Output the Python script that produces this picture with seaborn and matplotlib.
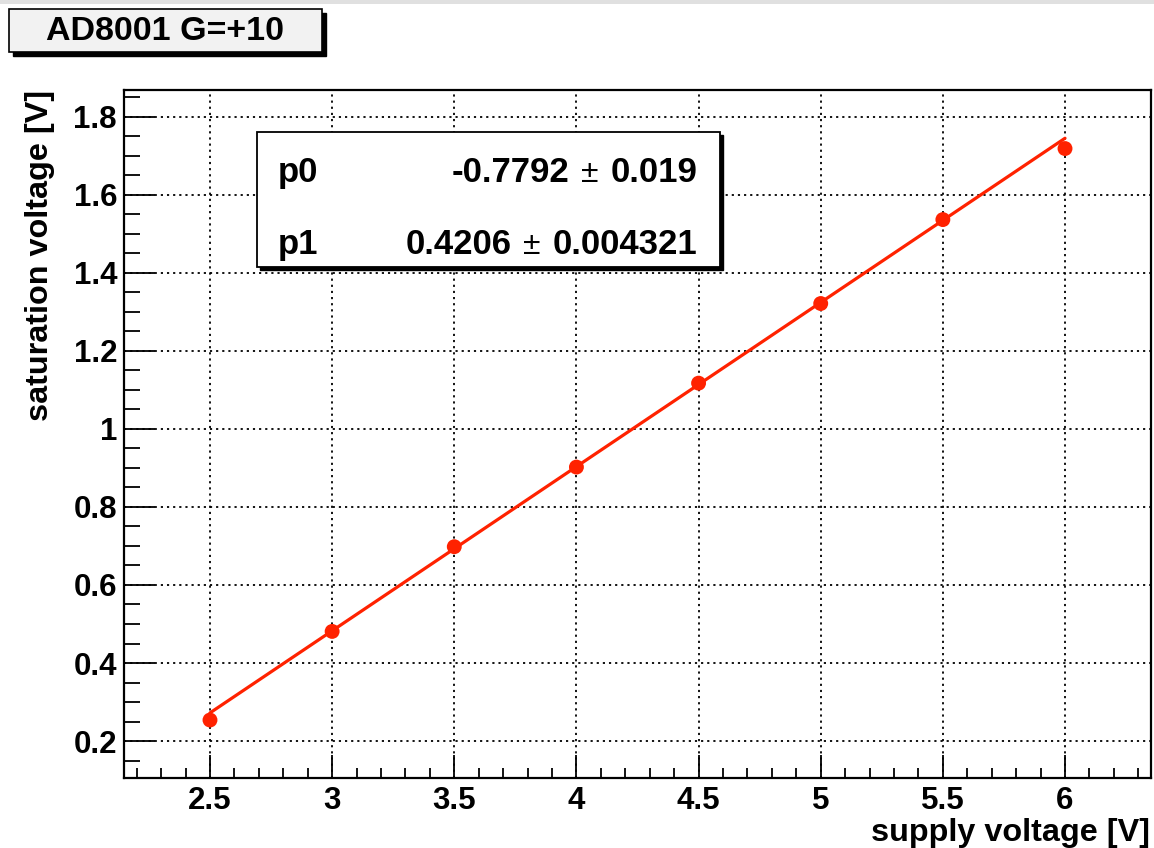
import matplotlib
matplotlib.use("Agg")
import matplotlib.pyplot as plt
from matplotlib.patches import Rectangle
from matplotlib.ticker import MultipleLocator
import numpy as np
import pandas as pd
import seaborn as sns

# ---- data ----
supply_voltage = [2.5, 3.0, 3.5, 4.0, 4.5, 5.0, 5.5, 6.0]
saturation_voltage = [0.254, 0.481, 0.698, 0.902, 1.117, 1.321, 1.536, 1.718]
p0_value, p0_err = -0.7792, 0.019
p1_value, p1_err = 0.4206, 0.004321
title_text = "AD8001 G=+10"
x_label = "supply voltage [V]"
y_label = "saturation voltage [V]"
x_ticks = [2.5, 3, 3.5, 4, 4.5, 5, 5.5, 6]
x_tick_labels = ["2.5", "3", "3.5", "4", "4.5", "5", "5.5", "6"]
y_ticks = [0.2, 0.4, 0.6, 0.8, 1.0, 1.2, 1.4, 1.6, 1.8]
y_tick_labels = ["0.2", "0.4", "0.6", "0.8", "1", "1.2", "1.4", "1.6", "1.8"]

df = pd.DataFrame({"x": supply_voltage, "y": saturation_voltage})
fit_x = np.array([supply_voltage[0], supply_voltage[-1]])
fit_df = pd.DataFrame({"x": fit_x, "y": p0_value + p1_value * fit_x})

sns.set_theme(style="white")
plt.rcParams["font.family"] = ["Liberation Sans", "DejaVu Sans"]
plt.rcParams["font.weight"] = "bold"
plt.rcParams["text.color"] = "black"
plt.rcParams["xtick.color"] = "black"
plt.rcParams["ytick.color"] = "black"
plt.rcParams["axes.labelcolor"] = "black"

W, H = 1154, 848
fig = plt.figure(figsize=(W / 100, H / 100), dpi=100)
fig.patch.set_facecolor("white")

def fx(px):
    return px / W

def fy(py):
    return 1 - py / H

# top gray strip
fig.patches.append(Rectangle((0, fy(4)), 1, 4 / H, transform=fig.transFigure,
                             facecolor="#e0e0e0", edgecolor="none", zorder=0))

ax_l, ax_r, ax_t, ax_b = 124, 1151, 90, 778
ax = fig.add_axes([fx(ax_l), fy(ax_b), (ax_r - ax_l) / W, (ax_b - ax_t) / H])
ax.set_facecolor("white")

red = "#ff2200"
sns.lineplot(data=fit_df, x="x", y="y", ax=ax, color=red, linewidth=2.3, zorder=3)
sns.scatterplot(data=df, x="x", y="y", ax=ax, color=red, s=115, edgecolor="none", zorder=4)

ax.set_xlim(2.148, 6.352)
ax.set_ylim(0.1055, 1.868)

ax.set_xticks(x_ticks)
ax.set_xticklabels(x_tick_labels)
ax.set_yticks(y_ticks)
ax.set_yticklabels(y_tick_labels)
ax.xaxis.set_minor_locator(MultipleLocator(0.1))
ax.yaxis.set_minor_locator(MultipleLocator(0.05))

ax.tick_params(axis="x", which="major", direction="in", length=16.5, width=1.3,
               labelsize=22.5, pad=6, color="black", labelcolor="black", bottom=True, top=False)
ax.tick_params(axis="x", which="minor", direction="in", length=7.5, width=1.3,
               color="black", bottom=True, top=False)
ax.tick_params(axis="y", which="major", direction="in", length=22, width=1.3,
               labelsize=22.5, pad=5, color="black", labelcolor="black", left=True, right=False)
ax.tick_params(axis="y", which="minor", direction="in", length=11.5, width=1.3,
               color="black", left=True, right=False)
for lab in ax.get_xticklabels() + ax.get_yticklabels():
    lab.set_fontweight("bold")

ax.grid(True, which="major", color="black", linestyle=(0, (1.2, 2.2)), linewidth=1.3)
ax.set_axisbelow(True)
for s in ax.spines.values():
    s.set_color("black")
    s.set_linewidth(1.6)
    s.set_visible(True)

ax.set_xlabel("")
ax.set_ylabel("")
fig.text(fx(1150), fy(833), x_label, ha="right", va="center", fontsize=23.3, fontweight="bold")
fig.text(fx(40), fy(90), y_label, ha="center", va="top", rotation=90, fontsize=23.3,
         fontweight="bold")

# title box with shadow
tb_l, tb_t, tb_r, tb_b, sh = 9, 9, 322, 52, 4
fig.patches.append(Rectangle((fx(tb_l + sh), fy(tb_b + sh)), (tb_r - tb_l) / W, (tb_b - tb_t) / H,
                             transform=fig.transFigure, facecolor="black", edgecolor="black", zorder=5))
fig.patches.append(Rectangle((fx(tb_l), fy(tb_b)), (tb_r - tb_l) / W, (tb_b - tb_t) / H,
                             transform=fig.transFigure, facecolor="#f2f2f2", edgecolor="black",
                             linewidth=1.2, zorder=6))
fig.text(fx(165), fy(31), title_text, ha="center", va="center",
         fontsize=24.5, fontweight="bold", zorder=7)

# stats box with shadow
sb_l, sb_t, sb_r, sb_b, ss = 257, 132, 720, 267, 3
fig.patches.append(Rectangle((fx(sb_l + ss), fy(sb_b + ss)), (sb_r - sb_l) / W, (sb_b - sb_t) / H,
                             transform=fig.transFigure, facecolor="black", edgecolor="black", zorder=5))
fig.patches.append(Rectangle((fx(sb_l), fy(sb_b)), (sb_r - sb_l) / W, (sb_b - sb_t) / H,
                             transform=fig.transFigure, facecolor="white", edgecolor="black",
                             linewidth=1.3, zorder=6))

renderer = fig.canvas.get_renderer()
rows = [("p0", f"{p0_value:.4f}", f"{p0_err:g}", 182),
        ("p1", f"{p1_value:.4f}", f"{p1_err:g}", 254)]
val_size = 25
for name, val, err, base in rows:
    fig.text(fx(278), fy(base), name, ha="left", va="baseline", fontsize=val_size,
             fontweight="bold", zorder=7)
    t_err = fig.text(fx(697), fy(base), err, ha="right", va="baseline", fontsize=val_size,
                     fontweight="bold", zorder=7)
    x_err = t_err.get_window_extent(renderer).x0
    t_pm = fig.text(x_err - 12, fy(base) * H, "\u00b1", ha="right", va="baseline",
                    fontsize=23, fontweight="normal", zorder=7, transform=None)
    x_pm = t_pm.get_window_extent(renderer).x0
    fig.text(x_pm - 11, fy(base) * H, val, ha="right", va="baseline", fontsize=val_size,
             fontweight="bold", zorder=7, transform=None)

fig.savefig("out.png", dpi=100)
